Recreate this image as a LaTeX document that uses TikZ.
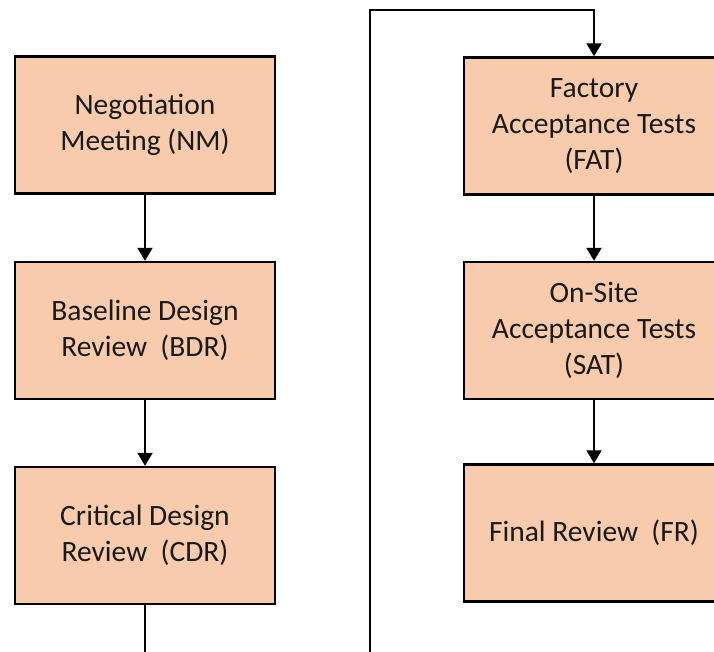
\documentclass[tikz,border=0pt]{standalone}
\usepackage{fontspec}
\setmainfont{Carlito}
\usetikzlibrary{arrows.meta}
\definecolor{boxfill}{HTML}{F8CBAD}
\tikzset{
  stagebox/.style={draw=black, line width=2.4pt, fill=boxfill, minimum width=260pt, minimum height=137pt, align=center, inner sep=0pt, font=\fontsize{29.5}{36}\selectfont, text=black!90},
  flow/.style={draw=black, line width=2pt, -{Triangle[width=15pt,length=13pt]}},
  plainline/.style={draw=black, line width=2pt}
}
\begin{document}
\begin{tikzpicture}[x=1pt,y=1pt]
\useasboundingbox (0,0) rectangle (714,-652);
\clip (0,0) rectangle (714,-652);
\node[stagebox] (nm) at (145,-125) {Negotiation\\Meeting (NM)};
\node[stagebox] (bdr) at (145,-330.5) {Baseline Design\\Review\ \ (BDR)};
\node[stagebox] (cdr) at (145,-535.5) {Critical Design\\Review\ \ (CDR)};
\node[stagebox] (fat) at (594,-126) {Factory\\Acceptance Tests\\(FAT)};
\node[stagebox] (sat) at (594,-330.5) {On-Site\\Acceptance Tests\\(SAT)};
\node[stagebox] (fr) at (594,-533) {Final Review\ \ (FR)};
\coordinate (cdrout) at (145,-660);
\coordinate (loopstart) at (370,-660);
\coordinate (looptop) at (370,-10);
\draw[flow] (nm) -- (bdr);
\draw[flow] (bdr) -- (cdr);
\draw[plainline] (cdr) -- (cdrout);
\draw[flow] (loopstart) -- (looptop) -| (fat.north);
\draw[flow] (fat) -- (sat);
\draw[flow] (sat) -- (fr);
\end{tikzpicture}
\end{document}
